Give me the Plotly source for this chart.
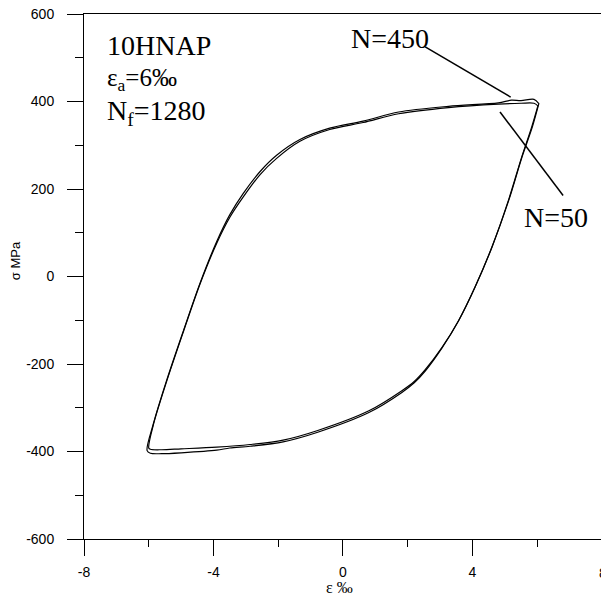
import plotly.graph_objects as go

# ---- data ----
eps_up_50 = [-6.00, -5.85, -5.44, -4.92, -4.41, -3.90, -3.49, -3.08, -2.56, -2.05, -1.33, -0.41, 0.62, 1.72, 3.26, 4.80, 5.50, 5.90, 6.02]
sig_up_50 = [-392, -337, -238, -124, -16, 76, 136, 182, 233, 270, 309, 336, 352, 372, 386, 394, 396, 396, 390]
eps_dn_50 = [6.02, 5.83, 5.52, 5.11, 4.60, 4.08, 3.57, 3.06, 2.54, 2.20, 1.82, 0.80, -0.78, -1.85, -2.87, -3.90, -5.00, -5.60, -5.95, -6.00]
sig_dn_50 = [390, 342, 273, 174, 67, -24, -101, -162, -213, -240, -261, -307, -352, -374, -384, -390, -394, -396, -395, -392]

eps_up_450 = [-6.05, -5.87, -5.45, -4.92, -4.41, -3.90, -3.49, -3.08, -2.56, -2.05, -1.33, -0.41, 0.62, 1.72, 3.26, 4.80, 5.20, 5.50, 5.90, 6.05]
sig_up_450 = [-398, -340, -238, -122, -14, 80, 142, 190, 240, 277, 313, 339, 355, 376, 389, 397, 403, 402, 405, 395]
eps_dn_450 = [6.05, 5.85, 5.53, 5.12, 4.60, 4.08, 3.57, 3.06, 2.54, 2.20, 1.82, 0.80, -0.78, -1.85, -2.87, -3.50, -3.90, -5.00, -5.60, -5.95, -6.05]
sig_dn_450 = [395, 342, 273, 174, 67, -24, -101, -163, -216, -243, -265, -311, -356, -378, -388, -392, -397, -403, -405, -404, -398]

lead450_x = [2.54, 5.18]
lead450_y = [525, 410]
lead50_x = [4.85, 6.80]
lead50_y = [376, 185]

x_ticks = [-8, -4, 0, 4]
y_ticks = [-600, -400, -200, 0, 200, 400, 600]

fig = go.Figure()
line_style = dict(color="black", width=1.2, shape="spline", smoothing=0.9)
fig.add_trace(go.Scatter(x=eps_up_50 + eps_dn_50, y=sig_up_50 + sig_dn_50,
                         mode="lines", line=line_style, hoverinfo="skip", name="N=50"))
fig.add_trace(go.Scatter(x=eps_up_450 + eps_dn_450, y=sig_up_450 + sig_dn_450,
                         mode="lines", line=line_style, hoverinfo="skip", name="N=450"))
fig.add_trace(go.Scatter(x=lead450_x, y=lead450_y, mode="lines",
                         line=dict(color="black", width=1.5), hoverinfo="skip"))
fig.add_trace(go.Scatter(x=lead50_x, y=lead50_y, mode="lines",
                         line=dict(color="black", width=1.5), hoverinfo="skip"))

serif = "Liberation Serif, Times New Roman, serif"
sans = "Liberation Sans, Arial, sans-serif"

def txt(x, y, s, size=28):
    fig.add_annotation(x=x, y=y, xref="x", yref="y", text=s, showarrow=False,
                       xanchor="left", yanchor="bottom",
                       font=dict(family=serif, size=size, color="black"))

txt(-7.36, 488, "10HNAP")
txt(-7.36, 410, "ε<sub>a</sub>=6‰", 25)
txt(-7.36, 330, "N<sub>f</sub>=1280")
txt(0.18, 504, "N=450")
txt(5.53, 95, "N=50")

# axis titles
fig.add_annotation(x=-0.1335, y=0.531, xref="paper", yref="paper", text="σ MPa",
                   showarrow=False, textangle=-90, xanchor="center", yanchor="middle",
                   font=dict(family=sans, size=13, color="black"))
fig.add_annotation(x=0.495, y=-0.093, xref="paper", yref="paper", text="ε ‰",
                   showarrow=False, xanchor="center", yanchor="middle",
                   font=dict(family=serif, size=16, color="black"))
# partially visible "8" label at the right edge
fig.add_annotation(x=1.0035, y=-0.064, xref="paper", yref="paper", text="8",
                   showarrow=False, xanchor="center", yanchor="middle",
                   font=dict(family=sans, size=14, color="black"))

fig.update_layout(
    width=601, height=597,
    margin=dict(l=84, r=0, t=14, b=58),
    paper_bgcolor="white", plot_bgcolor="white",
    showlegend=False,
    font=dict(family=sans, size=14, color="black"),
)
fig.update_xaxes(range=[-8, 7.97], tickmode="array", tickvals=x_ticks,
                 ticktext=[str(v) for v in x_ticks],
                 ticks="outside", ticklen=16, tickwidth=1, tickcolor="black",
                 minor=dict(dtick=2, tick0=0, ticks="outside", ticklen=7, tickwidth=1, tickcolor="black"),
                 showline=True, linecolor="black", linewidth=1, mirror=True,
                 showgrid=False, zeroline=False, ticklabelstandoff=4,
                 tickfont=dict(family=sans, size=14, color="black"))
fig.update_yaxes(range=[-600, 600], tickmode="array", tickvals=y_ticks,
                 ticktext=[str(v) for v in y_ticks],
                 ticks="outside", ticklen=16, tickwidth=1, tickcolor="black",
                 minor=dict(dtick=100, tick0=0, ticks="outside", ticklen=8, tickwidth=1, tickcolor="black"),
                 showline=True, linecolor="black", linewidth=1,
                 showgrid=False, zeroline=False, ticklabelstandoff=10,
                 tickfont=dict(family=sans, size=14, color="black"))

fig.write_html("out.html")
